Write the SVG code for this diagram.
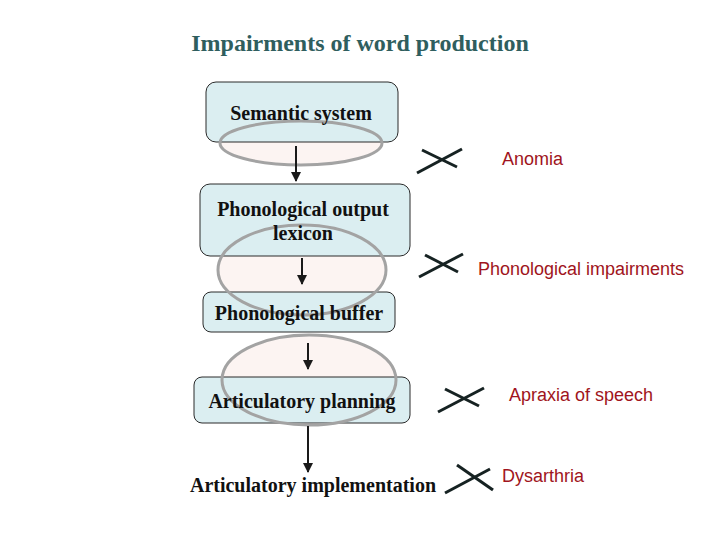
<svg xmlns="http://www.w3.org/2000/svg" width="720" height="540" viewBox="0 0 720 540">
<defs>
<style>
.box{fill:#dbeef1;stroke:#2a2a2a;stroke-width:1}
.ef{fill:#fcf4f2;stroke:none}
.es{fill:none;stroke:#a3a3a3;stroke-width:3}
.nt{font-family:"Liberation Serif","Times New Roman",serif;font-weight:bold;font-size:20px;fill:#111;text-anchor:middle}
.lab{font-family:"Liberation Sans",Arial,sans-serif;font-size:18px;fill:#a01420}
.x{stroke:#162222;stroke-width:3;stroke-linecap:butt}
.arr{stroke:#1a1a1a;stroke-width:2;fill:none;marker-end:url(#ah)}
</style>
<marker id="ah" viewBox="0 0 10 10" refX="9" refY="5" markerWidth="5" markerHeight="5" orient="auto" markerUnits="strokeWidth">
<path d="M0,0 L10,5 L0,10 z" fill="#1a1a1a"/>
</marker>
</defs>
<rect width="720" height="540" fill="#ffffff"/>
<text x="360" y="51" font-family="'Liberation Serif','Times New Roman',serif" font-weight="bold" font-size="24" fill="#2f5e5e" text-anchor="middle">Impairments of word production</text>

<g id="zones-fill">
<ellipse class="ef" cx="301" cy="143" rx="81" ry="22"/>
<ellipse class="ef" cx="302" cy="270" rx="84" ry="45"/>
<ellipse class="ef" cx="309" cy="380" rx="87" ry="45"/>
</g>

<g id="node-semantic"><rect class="box" x="206" y="82" width="192" height="60" rx="10"/></g>
<g id="node-pol"><rect class="box" x="200" y="184" width="210" height="72" rx="10"/></g>
<g id="node-buffer"><rect class="box" x="203" y="292" width="192" height="40" rx="8"/></g>
<g id="node-planning"><rect class="box" x="194" y="377" width="216" height="46" rx="8"/></g>

<g id="zones-outline">
<ellipse class="es" cx="301" cy="143" rx="81" ry="22"/>
<ellipse class="es" cx="302" cy="270" rx="84" ry="45"/>
<ellipse class="es" cx="309" cy="380" rx="87" ry="45"/>
</g>

<g id="node-texts">
<text class="nt" x="301" y="120">Semantic system</text>
<text class="nt" x="303" y="216">Phonological output</text>
<text class="nt" x="303" y="240">lexicon</text>
<text class="nt" x="299" y="320">Phonological buffer</text>
<text class="nt" x="302" y="408">Articulatory planning</text>
</g>
<g id="node-implementation"><text class="nt" x="313" y="492">Articulatory implementation</text></g>

<g id="connectors">
<line class="arr" x1="296" y1="146" x2="296" y2="181"/>
<line class="arr" x1="302" y1="258" x2="302" y2="284"/>
<line class="arr" x1="308" y1="343" x2="308" y2="369"/>
<line class="arr" x1="308" y1="426" x2="308" y2="472"/>
</g>

<g id="impairments">
<line class="x" x1="417" y1="173" x2="462" y2="149"/>
<line class="x" x1="422" y1="150" x2="457" y2="167"/>
<text class="lab" x="502" y="165">Anomia</text>
<line class="x" x1="419" y1="277" x2="463" y2="254"/>
<line class="x" x1="425" y1="255" x2="458" y2="272"/>
<text class="lab" x="478" y="275">Phonological impairments</text>
<line class="x" x1="438" y1="412" x2="484" y2="388"/>
<line class="x" x1="445" y1="389" x2="479" y2="406"/>
<text class="lab" x="509" y="401">Apraxia of speech</text>
<line class="x" x1="445" y1="493" x2="490" y2="469"/>
<line class="x" x1="457" y1="465" x2="493" y2="490"/>
<text class="lab" x="502" y="482">Dysarthria</text>
</g>
</svg>
